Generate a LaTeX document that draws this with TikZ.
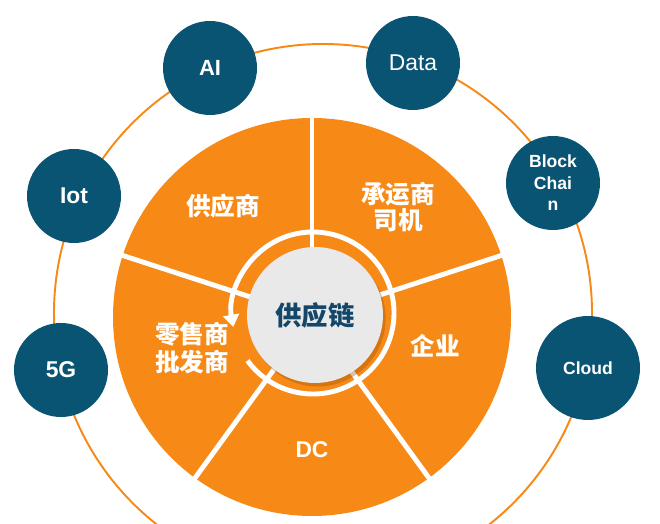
\documentclass[tikz,border=0pt]{standalone}
\usepackage{fontspec}
\setmainfont{Liberation Sans}
\newfontfamily\cjk{Noto Sans CJK SC}
\usetikzlibrary{arrows.meta,shadows}
\definecolor{pieorange}{RGB}{247,137,22}
\definecolor{techblue}{RGB}{10,84,115}
\definecolor{hubgray}{RGB}{233,233,233}
\definecolor{hubtext}{RGB}{20,70,105}

\begin{document}
\begin{tikzpicture}[x=0.02cm, y=0.02cm,
    tech/.style={circle, fill=techblue, text=white, minimum size=1.88cm,
      inner sep=0pt, align=center, font=\bfseries\fontsize{12.5}{14}\selectfont},
    part/.style={text=white, align=center, font=\cjk\bfseries\fontsize{14}{15}\selectfont}]
  \useasboundingbox (0,0) rectangle (660,524);
  % outer orbit
  \draw[pieorange, line width=1.1pt] (323,211) circle[radius=269];
  % five sectors
  \fill[pieorange] (312,207) circle[radius=199];
  \foreach \a in {90,18,-54,-126,162}
    \draw[white, line width=2.8pt] (312,207) ++(\a:60) -- ++(\a:150);
  % ring with arrow
  \draw[white, line width=2.8pt, -{Triangle[length=7pt,width=9pt]}]
    (313,211) ++(216:81) arc[start angle=216, end angle=550, radius=81];
  \node[circle, fill=hubgray, minimum size=2.72cm, inner sep=0pt,
    drop shadow={shadow xshift=1.5pt, shadow yshift=-2pt, fill=pieorange!60!black, opacity=0.35},
    text=hubtext, font=\cjk\bfseries\fontsize{15}{16}\selectfont] (hub) at (315,209) {供应链};

  \begin{scope}
    \node[part] (supplier) at (223,318) {供应商};
    \node[part] (carrier) at (398,317) {承运商\\司机};
    \node[part] (firm) at (435,178) {企业};
    \node[part, font=\bfseries\fontsize{13}{14}\selectfont] (dc) at (312,74) {DC};
    \node[part, font=\cjk\bfseries\fontsize{14}{16}\selectfont] (retail) at (192,176) {零售商\\批发商};
  \end{scope}

  \begin{scope}
    \node[tech] (ai) at (210,456) {AI};
    \node[tech, font=\fontsize{13}{14}\selectfont] (data) at (413,461) {Data};
    \node[tech, font=\bfseries\fontsize{13}{15}\selectfont] (iot) at (74,328) {Iot};
    \node[tech, font=\bfseries\fontsize{10}{12.2}\selectfont] (chain) at (553,341) {Block\\Chai\\n};
    \node[tech, font=\bfseries\fontsize{13}{15}\selectfont] (fiveg) at (61,154) {5G};
    \node[tech, minimum size=2.08cm, font=\bfseries\fontsize{10}{12}\selectfont] (cloud) at (588,156) {Cloud};
  \end{scope}
\end{tikzpicture}
\end{document}
